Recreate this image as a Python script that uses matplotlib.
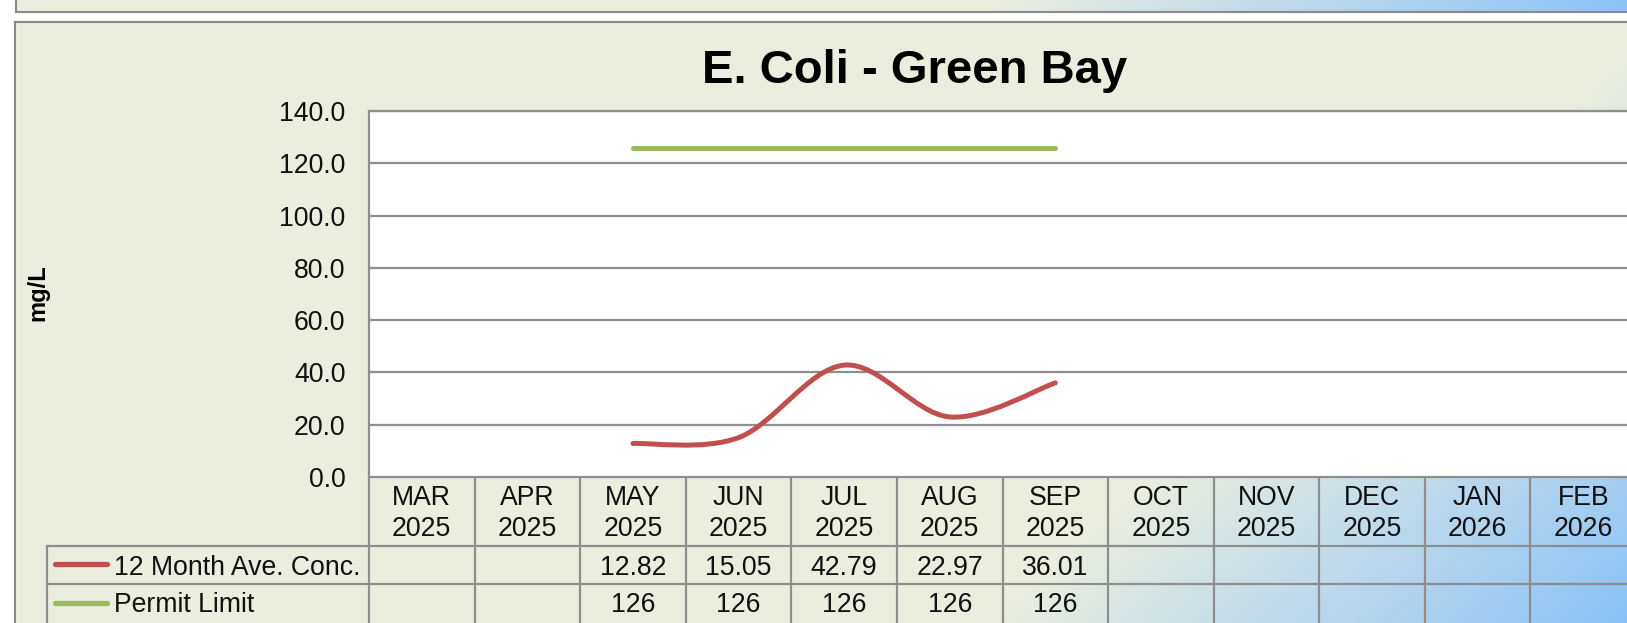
import numpy as np
import matplotlib
matplotlib.use("Agg")
import matplotlib.pyplot as plt
from matplotlib.path import Path
from matplotlib.patches import PathPatch
from matplotlib.transforms import blended_transform_factory

plt.rcParams['font.family'] = ['Liberation Sans', 'DejaVu Sans']

# ---------------- data ----------------
months = ["MAR", "APR", "MAY", "JUN", "JUL", "AUG", "SEP", "OCT", "NOV", "DEC", "JAN", "FEB"]
years = ["2025", "2025", "2025", "2025", "2025", "2025", "2025", "2025", "2025", "2025", "2026", "2026"]
ave_conc = [None, None, 12.82, 15.05, 42.79, 22.97, 36.01, None, None, None, None, None]
ave_conc_labels = ["", "", "12.82", "15.05", "42.79", "22.97", "36.01", "", "", "", "", ""]
permit_limit = [None, None, 126, 126, 126, 126, 126, None, None, None, None, None]
permit_labels = ["", "", "126", "126", "126", "126", "126", "", "", "", "", ""]
series_names = ["12 Month Ave. Conc.", "Permit Limit"]
title = "E. Coli - Green Bay"
ylabel = "mg/L"
yticks = [0, 20, 40, 60, 80, 100, 120, 140]

RED = "#C0504D"
GREEN = "#9BBB59"
GRID = "#8E8E8E"
BEIGE = np.array([235, 238, 223]) / 255.0
BLUE = np.array([133, 192, 250]) / 255.0

W, H = 1627, 623
fig = plt.figure(figsize=(W / 100, H / 100), dpi=100)
fig.patch.set_facecolor("white")

# background axes in pixel coordinates (y down)
bg = fig.add_axes([0, 0, 1, 1], zorder=0)
bg.set_xlim(0, W)
bg.set_ylim(H, 0)
bg.axis("off")


def gradient_img(x0, x1, y0, y1, yshift):
    xs = np.arange(x0, x1) + 0.5
    ys = np.arange(y0, y1) + 0.5
    X, Y = np.meshgrid(xs, ys)
    t = 0.66 * X + 0.75 * (Y + yshift)
    f = np.clip((t - 1115) / 450.0, 0, 1)[..., None]
    return BEIGE * (1 - f) + BLUE * f


# top strip (previous panel)
img1 = gradient_img(16, W, 0, 12, 611)
bg.imshow(img1, extent=(16, W, 12, 0), aspect="auto", interpolation="bilinear", zorder=0)
bg.plot([16, W], [12, 12], color="#8A8A8A", lw=1.5, zorder=1)
bg.plot([16, 16], [0, 12], color="#8A8A8A", lw=1.5, zorder=1)

# main panel
img2 = gradient_img(15, W, 22, H, 0)
bg.imshow(img2, extent=(15, W, H, 22), aspect="auto", interpolation="bilinear", zorder=0)
bg.plot([15, W], [22, 22], color="#8A8A8A", lw=1.5, zorder=1)
bg.plot([15, 15], [22, H], color="#8A8A8A", lw=1.5, zorder=1)

# ---------------- chart axes ----------------
left_px, top_px, bottom_px, right_px = 369, 111, 477, 1636
ax = fig.add_axes([left_px / W, 1 - bottom_px / H, (right_px - left_px) / W, (bottom_px - top_px) / H], zorder=2)
ax.set_facecolor("white")
n = len(months)
ax.set_xlim(-0.5, n - 0.5)
ax.set_ylim(0, 140)
ax.set_xticks([])
ax.set_yticks(yticks)
ax.set_yticklabels([f"{v:.1f}" for v in yticks])
ax.tick_params(axis="y", length=0, pad=17, labelsize=19.2, labelcolor="#111111")
for v in yticks[1:]:
    ax.axhline(v, color=GRID, lw=1.6, zorder=1)
for s in ["left", "top", "bottom"]:
    ax.spines[s].set_color(GRID)
    ax.spines[s].set_linewidth(1.6)
ax.spines["right"].set_visible(False)


def excel_smooth_path(xs, ys):
    pts = np.column_stack([xs, ys]).astype(float)
    m = len(pts)
    verts = [pts[0]]
    codes = [Path.MOVETO]
    for i in range(m - 1):
        p_prev = pts[i - 1] if i > 0 else pts[i]
        p_next2 = pts[i + 2] if i + 2 < m else pts[i + 1]
        c1 = pts[i] + (pts[i + 1] - p_prev) / 6.0
        c2 = pts[i + 1] - (p_next2 - pts[i]) / 6.0
        verts += [c1, c2, pts[i + 1]]
        codes += [Path.CURVE4] * 3
    return Path(verts, codes)


idx = [i for i, v in enumerate(ave_conc) if v is not None]
red_path = excel_smooth_path(idx, [ave_conc[i] for i in idx])
ax.add_patch(PathPatch(red_path, fill=False, edgecolor=RED, lw=3.6, capstyle="round",
                       joinstyle="round", zorder=4))
idx_p = [i for i, v in enumerate(permit_limit) if v is not None]
ax.plot(idx_p, [permit_limit[i] for i in idx_p], color=GREEN, lw=3.6,
        solid_capstyle="round", zorder=4)

# ---------------- data table ----------------
tr = blended_transform_factory(ax.transData, bg.transData)
row1_y, row2_y, bot_y = 546, 584, H + 5
line_kw = dict(color=GRID, lw=1.6, zorder=3, clip_on=False)
for k in range(n + 1):
    bg.plot([k - 0.5, k - 0.5], [bottom_px, bot_y], transform=tr, **line_kw)
for yy in [row1_y, row2_y]:
    bg.plot([47, W + 10], [yy, yy], **line_kw)
bg.plot([47, 47], [row1_y, bot_y], **line_kw)

fs = 19.2
for k in range(n):
    bg.text(k, 505, months[k], transform=tr, ha="center", va="baseline", fontsize=fs, color="#111111", zorder=5)
    bg.text(k, 536, years[k], transform=tr, ha="center", va="baseline", fontsize=fs, color="#111111", zorder=5)
    bg.text(k, 575, ave_conc_labels[k], transform=tr, ha="center", va="baseline", fontsize=fs, color="#111111", zorder=5)
    bg.text(k, 612, permit_labels[k], transform=tr, ha="center", va="baseline", fontsize=fs, color="#111111", zorder=5)

# legend keys in table
bg.plot([55, 107], [564, 564], color=RED, lw=3.8, solid_capstyle="round", zorder=5)
bg.plot([55, 107], [603, 603], color=GREEN, lw=3.8, solid_capstyle="round", zorder=5)
bg.text(114, 575, series_names[0], ha="left", va="baseline", fontsize=fs, color="#111111", zorder=5)
bg.text(114, 612, series_names[1], ha="left", va="baseline", fontsize=fs, color="#111111", zorder=5)

# title and y label
bg.text(915, 83, title, ha="center", va="baseline", fontsize=34, fontweight="bold", color="#000000", zorder=5)
bg.text(38, 293, ylabel, ha="center", va="center", rotation=90, fontsize=17, fontweight="bold",
        color="#000000", zorder=5)

fig.savefig("out.png", dpi=100, facecolor="white")
